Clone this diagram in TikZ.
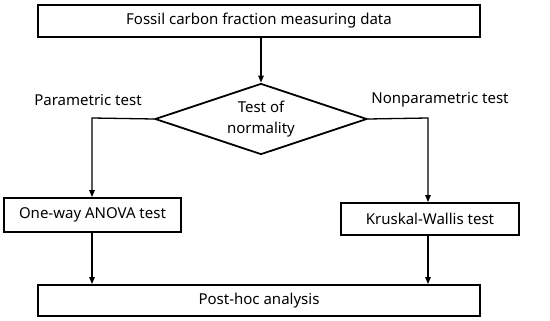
\documentclass[tikz,border=0pt]{standalone}
\usepackage{fontspec}
\setmainfont{Noto Sans}
\usetikzlibrary{arrows.meta,shapes.geometric}
\begin{document}
\begin{tikzpicture}[x=1pt,y=-1pt,
  boxst/.style={draw,line width=1.8pt,inner sep=0pt},
  conn/.style={line width=1.3pt,-{Triangle[length=7pt,width=5.5pt]}},
  txt/.style={font=\fontsize{15}{21}\selectfont}]
\useasboundingbox (0,0) rectangle (550,321);
\node[boxst,minimum width=442pt,minimum height=32pt,txt] (top) at (259,21) {Fossil carbon fraction measuring data};
\node[draw,line width=1.8pt,diamond,aspect=3,minimum width=212pt,minimum height=71pt,inner sep=0pt] (dia) at (261,119) {};
\node[txt,align=center] (diatxt) at (261,119) {Test of\\normality};
\node[boxst,minimum width=177pt,minimum height=34pt,txt] (anova) at (92.5,215) {One-way ANOVA test};
\node[boxst,minimum width=178pt,minimum height=32pt,txt] (kw) at (430,219) {Kruskal-Wallis test};
\node[boxst,minimum width=442pt,minimum height=31pt,txt] (post) at (259,300.5) {Post-hoc analysis};
\node[txt] (par) at (88,100) {Parametric test};
\node[txt] (npar) at (440,100) {Nonparametric test};
\coordinate (lc) at (92,118);
\coordinate (rc) at (428,118);
\draw[conn] (top.south -| dia.north) -- (dia.north);
\draw[conn] (dia.west) -- (lc) -- (lc |- anova.north);
\draw[conn] (dia.east) -- (rc) -- (rc |- kw.north);
\draw[conn] (lc |- anova.south) -- (lc |- post.north);
\draw[conn] (rc |- kw.south) -- (rc |- post.north);
\end{tikzpicture}
\end{document}
